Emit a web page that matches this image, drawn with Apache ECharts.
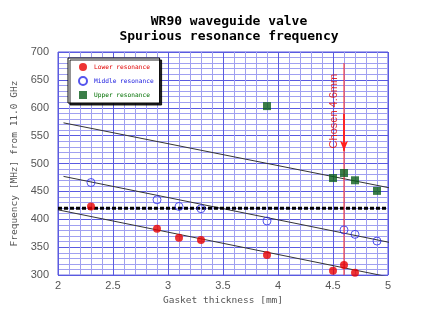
<!DOCTYPE html>
<html><head><meta charset="utf-8">
<script src="https://cdn.jsdelivr.net/npm/echarts@6/dist/echarts.min.js"></script>
<style>html,body{margin:0;padding:0;background:#fff}#c{width:436px;height:311px}</style>
</head><body><div id="c"></div>
<script>
const lowerX = [2.3, 2.9, 3.1, 3.3, 3.9, 4.5, 4.6, 4.7];
const lowerY = [423, 383, 367, 363, 336, 308, 318, 304];
const middleX = [2.3, 2.9, 3.1, 3.3, 3.9, 4.6, 4.7, 4.9];
const middleY = [466, 435, 423, 419, 397, 381, 373, 361];
const upperX = [3.9, 4.5, 4.6, 4.7, 4.9];
const upperY = [603, 474, 483, 470, 451];
const fitUpper = [[2.05, 573], [5.05, 455]];
const fitMiddle = [[2.05, 477], [5.03, 358]];
const fitLower = [[2.0, 417], [5.0, 297]];
const refLineY = 420;
const chosenLine = [[4.6, 680], [4.6, 300]];
const arrowFromTo = [[4.6, 589], [4.6, 523]];
const chosenLabel = 'Chosen 4.6mm';
const chosenLabelAt = [4.51, 594];
const xTicks = [2, 2.5, 3, 3.5, 4, 4.5, 5];
const yTicks = [300, 350, 400, 450, 500, 550, 600, 650, 700];

const zip = (xs, ys) => xs.map((x, i) => [x, ys[i]]);
const mono = "'DejaVu Sans Mono', monospace";
const chart = echarts.init(document.getElementById('c'), null, {renderer: 'canvas'});
chart.setOption({
  animation: false,
  title: {
    text: 'WR90 waveguide valve\nSpurious resonance frequency',
    left: 224, top: 9, textAlign: 'center',
    textStyle: {fontFamily: mono, fontWeight: 'bold', fontSize: 13, lineHeight: 15, color: '#000'}
  },
  legend: {
    orient: 'vertical', left: 68, top: 58,
    padding: [5, 6, 4, 10], itemGap: 5, itemWidth: 8, itemHeight: 8,
    backgroundColor: '#fff', borderColor: '#000', borderWidth: 1,
    shadowColor: 'rgba(0,0,0,0.85)', shadowOffsetX: 2, shadowOffsetY: 2, shadowBlur: 0,
    textStyle: {fontFamily: mono, fontSize: 6.2, padding: [0, 0, 0, 2]},
    data: [
      {name: 'Lower resonance', textStyle: {color: '#e00000'}},
      {name: 'Middle resonance', textStyle: {color: '#2020e0'}},
      {name: 'Upper resonance', textStyle: {color: '#007000'}}
    ]
  },
  grid: {left: 58, right: 48, top: 52, bottom: 31, show: true, borderColor: '#5555dd', borderWidth: 1},
  xAxis: {
    type: 'value', min: 2, max: 5, interval: 0.5,
    name: 'Gasket thickness [mm]', nameLocation: 'middle', nameGap: 16,
    nameTextStyle: {fontFamily: mono, fontSize: 9.5, color: '#555'},
    axisLine: {show: false}, axisTick: {show: false},
    axisLabel: {fontFamily: 'Liberation Sans', fontSize: 11, color: '#555', margin: 5,
      formatter: v => xTicks.includes(v) ? String(v) : ''},
    splitLine: {show: true, lineStyle: {color: '#5a5ae0', width: 1}},
    minorTick: {show: false, splitNumber: 5},
    minorSplitLine: {show: true, lineStyle: {color: '#a0a0f0', width: 1}}
  },
  yAxis: {
    type: 'value', min: 300, max: 700, interval: 50,
    name: 'Frequency [MHz] from 11.0 GHz', nameLocation: 'middle', nameGap: 37,
    nameTextStyle: {fontFamily: mono, fontSize: 9.5, color: '#555'},
    axisLine: {show: false}, axisTick: {show: false},
    axisLabel: {fontFamily: 'Liberation Sans', fontSize: 11, color: '#555', margin: 9,
      formatter: v => yTicks.includes(v) ? String(v) : ''},
    splitLine: {show: true, lineStyle: {color: '#5a5ae0', width: 1}},
    minorTick: {show: false, splitNumber: 5},
    minorSplitLine: {show: true, lineStyle: {color: '#a0a0f0', width: 1}}
  },
  series: [
    {type: 'line', data: fitUpper, symbol: 'none', lineStyle: {color: '#333', width: 1}, silent: true, z: 3},
    {type: 'line', data: fitMiddle, symbol: 'none', lineStyle: {color: '#333', width: 1}, silent: true, z: 3},
    {type: 'line', data: fitLower, symbol: 'none', lineStyle: {color: '#333', width: 1}, silent: true, z: 3},
    {type: 'line', data: [[2, refLineY], [5, refLineY]], symbol: 'none',
      lineStyle: {color: '#000', width: 3, type: [4, 2]}, silent: true, z: 4},
    {type: 'line', data: chosenLine, symbol: 'none', lineStyle: {color: '#ff2020', width: 1}, silent: true, z: 5},
    {type: 'line', data: arrowFromTo, symbol: 'none', lineStyle: {color: '#ff2020', width: 1.5}, silent: true, z: 5,
      markLine: {silent: true, symbol: ['none', 'arrow'], symbolSize: [6, 10],
        lineStyle: {color: '#ff2020', width: 1.5, type: 'solid'}, label: {show: false},
        data: [[{coord: arrowFromTo[0]}, {coord: arrowFromTo[1]}]]}},
    {type: 'scatter', data: [chosenLabelAt], symbolSize: 0, silent: true, z: 6,
      label: {show: true, formatter: chosenLabel, rotate: 90, position: 'inside',
        fontFamily: 'Liberation Sans', fontSize: 11, color: '#e00000'}},
    {name: 'Lower resonance', type: 'scatter', data: zip(lowerX, lowerY), symbol: 'circle', symbolSize: 8,
      itemStyle: {color: '#e80000'}, z: 10},
    {name: 'Middle resonance', type: 'scatter', data: zip(middleX, middleY), symbol: 'circle', symbolSize: 8,
      itemStyle: {color: 'rgba(255,255,255,0)', borderColor: '#2a2ae8', borderWidth: 1}, z: 10},
    {name: 'Upper resonance', type: 'scatter', data: zip(upperX, upperY), symbol: 'rect', symbolSize: 8,
      itemStyle: {color: '#0a5e1a'}, z: 10}
  ]
});
</script></body></html>
